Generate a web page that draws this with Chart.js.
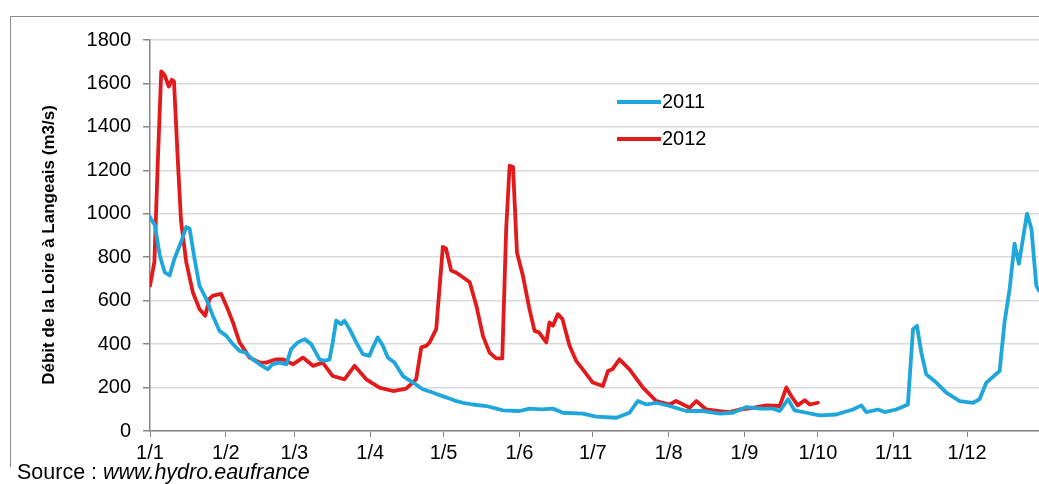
<!DOCTYPE html>
<html>
<head>
<meta charset="utf-8">
<script src="https://cdn.jsdelivr.net/npm/chart.js@4/dist/chart.umd.min.js"></script>
<style>
  html, body { margin: 0; padding: 0; background: #fff; }
  #wrap { position: relative; width: 1039px; height: 484px; overflow: hidden; }
  #frame { position: absolute; left: 10px; top: 16px; width: 1100px; height: 450px;
           border-left: 1px solid #8c8c8c; border-top: 1px solid #8c8c8c; }
  #source { position: absolute; left: 17px; top: 460px; font: 21.5px "Liberation Sans", Arial, sans-serif;
            color: #000; background: #fff; white-space: nowrap; line-height: 25px; }
</style>
</head>
<body>
<div id="wrap">
  <div id="frame"></div>
  <canvas id="chart" width="1039" height="484"></canvas>
  <div id="source">Source : <i>www.hydro.eaufrance</i></div>
</div>
<script>
const monthStarts = [0, 31, 59, 90, 120, 151, 181, 212, 243, 273, 304, 334];
const monthLabels = ["1/1", "1/2", "1/3", "1/4", "1/5", "1/6", "1/7", "1/8", "1/9", "1/10", "1/11", "1/12"];
const yTicks = [0, 200, 400, 600, 800, 1000, 1200, 1400, 1600, 1800];

// day of year and flow (m3/s)
const days2011 = [0, 2, 4, 6, 8, 10, 12.7, 14.8, 16.2, 18.2, 20.2, 23, 25.7, 28.4, 31.2, 33.9, 36.6, 39, 42, 44.8,
  48.2, 50, 52.9, 55.7, 57.7, 60.4, 63.2, 65.9, 69.3, 71.3, 73.4, 74.7, 76.1, 78.1, 79.5, 81.6, 84.3, 87, 89.7,
  91.1, 93.1, 95.2, 97.2, 99.9, 103.4, 107.5, 111.5, 115.6, 118.4, 121, 124.5, 127.9, 132, 137.5, 144.3, 151.1,
  155.1, 160, 164.7, 168.8, 176.9, 182.4, 190.6, 196, 199.4, 202.9, 206.9, 212.4, 219.2, 226.1, 233, 238.3,
  243.8, 249.2, 254.7, 257.4, 260.8, 263.5, 268.3, 273.7, 280.5, 287.3, 290.8, 292.8, 297.6, 300.3, 305, 309.8,
  311.9, 313.5, 315.3, 317.3, 321.4, 325.5, 331, 336.4, 339.1, 341.9, 347.3, 349.3, 351.4, 353.4, 355.2, 358.5,
  360.3, 362.3, 363.4];
const flow2011 = [985, 947, 808, 731, 716, 793, 870, 939, 931, 793, 669, 608, 531, 461, 438, 400, 369, 361, 330, 307,
  284, 307, 315, 307, 377, 408, 423, 400, 330, 323, 330, 408, 508, 492, 508, 469, 408, 354, 346,
  384, 431, 392, 338, 315, 253, 223, 192, 177, 165, 155, 140, 130, 122, 115, 95, 92,
  103, 100, 103, 84, 80, 66, 61, 84, 138, 122, 130, 115, 92, 92, 80, 84,
  110, 103, 103, 92, 146, 95, 84, 72, 76, 99, 118, 87, 99, 87, 99, 122,
  469, 484, 361, 261, 223, 177, 138, 130, 146, 223, 276, 500, 654, 862, 770, 1001,
  931, 669, 646];

const days2012 = [0, 1.8, 3.2, 4.6, 5.9, 7.7, 8.9, 9.8, 11.4, 12.7, 14.8, 17.5, 20.2, 22.6, 24.3, 25.7, 29.1, 31.2,
  33.9, 36.6, 40.7, 44.8, 47.5, 51.6, 54.3, 58.4, 62.5, 66.6, 70.6, 74.7, 79.5, 83.6, 88.4, 93.8, 99.3, 104.7,
  108.8, 110.9, 112.9, 114.3, 117, 119.7, 121, 123.1, 125, 127.9, 130.7, 133.4, 136.1, 138.8, 141.5, 144, 145.6,
  147, 148.4, 150, 152.4, 155.1, 157.2, 159, 162, 163.3, 164.7, 166.7, 168.6, 171.5, 174.2, 176.9, 181, 185.1,
  187.2, 189, 191.9, 196, 201.5, 206.9, 212.4, 215, 220.6, 223.3, 227.4, 232.8, 236.9, 241, 246.4, 251.9,
  257.4, 260.1, 262.1, 264.8, 267.6, 269.7, 273];
const flow2012 = [669, 779, 1241, 1656, 1640, 1586, 1617, 1610, 1240, 964, 779, 639, 562, 531, 608, 623, 631, 577,
  500, 408, 338, 315, 315, 330, 330, 307, 338, 300, 315, 253, 238, 300, 238, 200, 184, 195,
  238, 385, 392, 408, 469, 847, 840, 739, 730, 708, 685, 577, 438, 361, 334, 334, 931,
  1221, 1215, 823, 716, 562, 461, 454, 408, 500, 485, 538, 515, 392, 323, 284, 223, 207,
  276, 284, 330, 284, 200, 138, 122, 138, 107, 138, 99, 92, 87, 99, 107, 118,
  115, 200, 161, 118, 142, 122, 130];

const toPoints = (xs, ys) => xs.map((x, i) => ({ x: x, y: ys[i] }));

const font = "'Liberation Sans', Arial, sans-serif";

const decor = {
  id: "decor",
  afterDraw(chart) {
    const ctx = chart.ctx;
    ctx.save();
    // y axis title
    ctx.translate(49, 245);
    ctx.rotate(-Math.PI / 2);
    ctx.font = "bold 17px " + font;
    ctx.fillStyle = "#000";
    ctx.textAlign = "center";
    ctx.textBaseline = "middle";
    ctx.fillText("Débit de la Loire à Langeais (m3/s)", 0, 0);
    ctx.restore();

    // legend
    ctx.save();
    ctx.font = "20px " + font;
    ctx.textBaseline = "middle";
    ctx.fillStyle = "#000";
    chart.data.datasets.forEach(function (ds, i) {
      const y = 102 + i * 37;
      ctx.strokeStyle = ds.borderColor;
      ctx.lineWidth = 4;
      ctx.beginPath();
      ctx.moveTo(617, y);
      ctx.lineTo(661, y);
      ctx.stroke();
      ctx.fillText(ds.label, 662, y);
    });
    ctx.restore();
  },
};

const canvasRef = document.getElementById("chart");

const myChart = new Chart(canvasRef, {
  type: "line",
  data: {
    datasets: [
      {
        label: "2011",
        data: toPoints(days2011, flow2011),
        borderColor: "#1fa7dc",
        borderWidth: 3.8,
        borderJoinStyle: "round",
        borderCapStyle: "round",
        pointRadius: 0,
        tension: 0,
      },
      {
        label: "2012",
        data: toPoints(days2012, flow2012),
        borderColor: "#e31a1c",
        borderWidth: 3.8,
        borderJoinStyle: "round",
        borderCapStyle: "round",
        pointRadius: 0,
        tension: 0,
      },
    ],
  },
  options: {
    responsive: false,
    animation: false,
    layout: { padding: { top: 40, right: 0, left: 0, bottom: 0 } },
    plugins: {
      legend: { display: false },
      tooltip: { enabled: false },
    },
    scales: {
      x: {
        type: "linear",
        min: 0,
        max: 363.4,
        afterBuildTicks(scale) {
          scale.ticks = monthStarts.map((v) => ({ value: v }));
        },
        afterFit(scale) {
          scale.height = 53;
        },
        border: { color: "#868686", width: 1.5 },
        grid: { drawOnChartArea: false, drawTicks: true, tickLength: 6, color: "#868686" },
        ticks: {
          autoSkip: false,
          maxRotation: 0,
          padding: 4,
          color: "#000",
          font: { family: font, size: 20 },
          callback: (v) => monthLabels[monthStarts.indexOf(v)],
        },
      },
      y: {
        min: 0,
        max: 1800,
        afterBuildTicks(scale) {
          scale.ticks = yTicks.map((v) => ({ value: v }));
        },
        afterFit(scale) {
          scale.width = 150;
        },
        border: { color: "#868686", width: 1.5 },
        grid: { color: "#d9d9d9", lineWidth: 1.5, tickLength: 7, tickColor: "#868686" },
        ticks: {
          padding: 12,
          color: "#000",
          font: { family: font, size: 20 },
          callback: (v) => String(v),
        },
      },
    },
  },
  plugins: [decor],
});
</script>
</body>
</html>
